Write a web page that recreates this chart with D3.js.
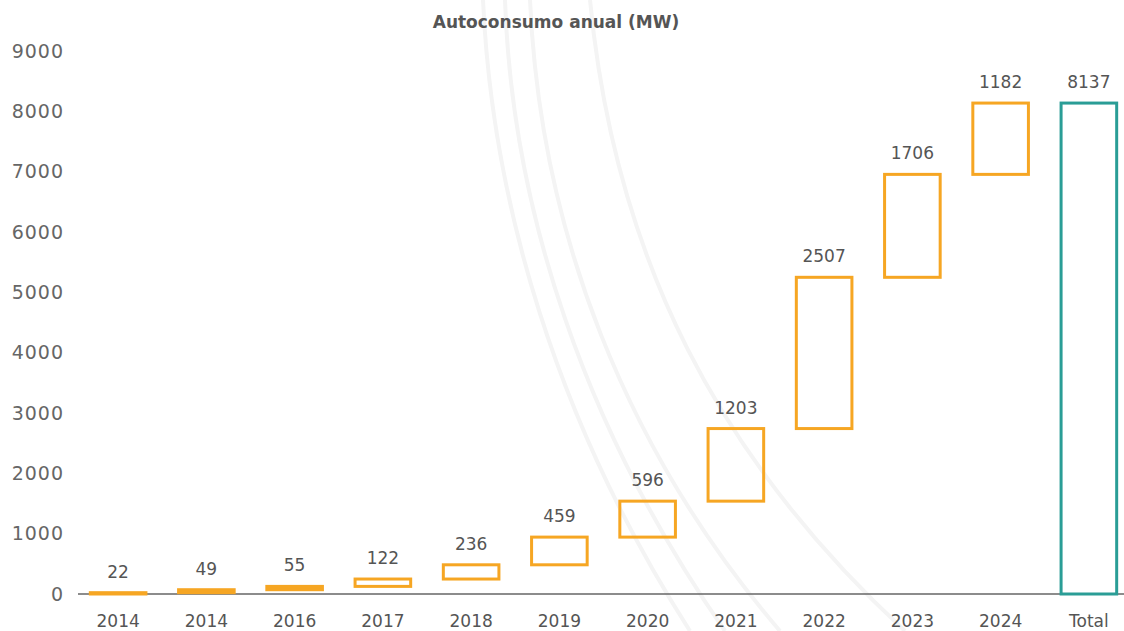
<!DOCTYPE html>
<html>
<head>
<meta charset="utf-8">
<script src="https://cdn.jsdelivr.net/npm/d3@7"></script>
<style>
  body { margin: 0; background: #fff; }
  svg { display: block; }
  text { font-family: "DejaVu Sans", sans-serif; }
</style>
</head>
<body>
<svg width="1124" height="631"></svg>
<script>
// datos
const categories = ["2014", "2014", "2016", "2017", "2018", "2019", "2020", "2021", "2022", "2023", "2024", "Total"];
const annual = [22, 49, 55, 122, 236, 459, 596, 1203, 2507, 1706, 1182];
const yTicks = [0, 1000, 2000, 3000, 4000, 5000, 6000, 7000, 8000, 9000];
const title = "Autoconsumo anual (MW)";

const svg = d3.select("svg"),
  width = +svg.attr("width"),
  height = +svg.attr("height");

// se construyen los tramos de la cascada
let acc = 0;
const steps = annual.map(function(v, i) {
  const s = { i: i, start: acc, end: acc + v, value: v, total: false };
  acc += v;
  return s;
});
steps.push({ i: annual.length, start: 0, end: acc, value: acc, total: true });

const x = d3.scaleBand()
  .domain(d3.range(categories.length))
  .range([74, 1133])
  .paddingInner(0.37)
  .paddingOuter(0.185);

const y = d3.scaleLinear()
  .domain([0, 9000])
  .range([594, 51]);

// lineas decorativas de fondo
const deco = svg.append("g").attr("fill", "none").attr("stroke", "#f4f4f4").attr("stroke-width", 4);
[
  "M483,0 C492,200 555,420 690,631",
  "M505,0 C512,210 585,430 725,631",
  "M530,0 C540,230 625,450 780,631",
  "M590,0 C615,260 720,460 905,631"
].forEach(function(d) { deco.append("path").attr("d", d); });

// titulo
svg.append("text")
  .attr("x", 556)
  .attr("y", 28)
  .attr("text-anchor", "middle")
  .attr("font-size", 17)
  .attr("font-weight", "bold")
  .attr("fill", "#555")
  .text(title);

// eje y sin linea
const yAxis = svg.append("g")
  .attr("transform", "translate(64,0)")
  .call(d3.axisLeft(y).tickValues(yTicks).tickSize(0).tickPadding(0).tickFormat(d3.format("d")));
yAxis.select(".domain").remove();
yAxis.selectAll("text")
  .attr("font-size", 19)
  .attr("letter-spacing", 1)
  .attr("fill", "#666")
  .attr("font-family", "DejaVu Sans");

// eje x
const xAxis = svg.append("g")
  .attr("transform", "translate(0," + y(0) + ")")
  .call(d3.axisBottom(x).tickSize(0).tickPadding(21).tickFormat(function(i) { return categories[i]; }));
xAxis.select(".domain").attr("stroke", "#666").attr("stroke-width", 1.5).attr("d", "M78,0H1124");
xAxis.selectAll("text").attr("font-size", 17).attr("fill", "#555").attr("font-family", "DejaVu Sans");

// barras
svg.append("g").selectAll("rect")
  .data(steps)
  .enter().append("rect")
  .attr("x", function(d) { return x(d.i); })
  .attr("y", function(d) { return y(d.end); })
  .attr("width", x.bandwidth())
  .attr("height", function(d) { return y(d.start) - y(d.end); })
  .attr("fill", function(d) { return y(d.start) - y(d.end) < 4 ? "#f6a623" : "none"; })
  .attr("stroke", function(d) { return d.total ? "#2a9d96" : "#f6a623"; })
  .attr("stroke-width", 3);

// etiquetas de valor
svg.append("g").selectAll("text")
  .data(steps)
  .enter().append("text")
  .attr("x", function(d) { return x(d.i) + x.bandwidth() / 2; })
  .attr("y", function(d) { return y(d.end) - 15; })
  .attr("text-anchor", "middle")
  .attr("font-size", 17)
  .attr("fill", "#555")
  .text(function(d) { return d.value; });
</script>
</body>
</html>
